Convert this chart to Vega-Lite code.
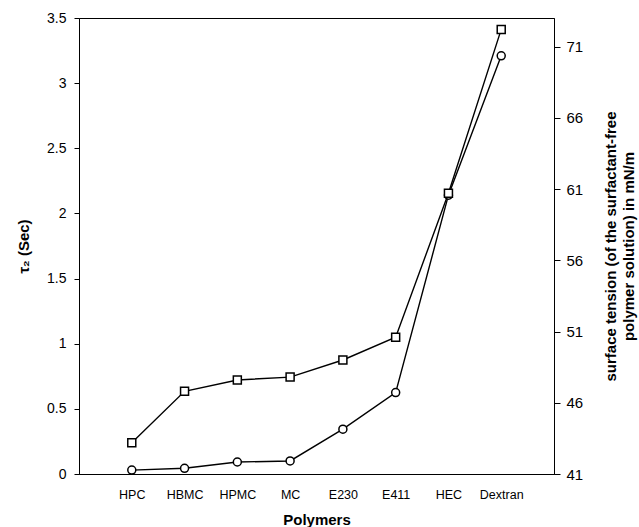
{
  "$schema": "https://vega.github.io/schema/vega-lite/v6.json",
  "width": 475,
  "height": 456,
  "autosize": {"type": "none"},
  "padding": {"left": 79, "top": 18, "right": 85, "bottom": 53},
  "background": "white",
  "config": {
    "font": "Liberation Sans",
    "view": {"stroke": "black", "strokeWidth": 1},
    "axis": {"domainColor": "black", "tickColor": "black", "labelColor": "black", "titleColor": "black", "grid": false, "labelFont": "Liberation Sans", "titleFont": "Liberation Sans"}
  },
  "data": {
    "values": [
      {"polymer": "HPC", "tau": 0.03, "st": 43.2},
      {"polymer": "HBMC", "tau": 0.044, "st": 46.8},
      {"polymer": "HPMC", "tau": 0.092, "st": 47.6},
      {"polymer": "MC", "tau": 0.10, "st": 47.8},
      {"polymer": "E230", "tau": 0.344, "st": 49.0},
      {"polymer": "E411", "tau": 0.625, "st": 50.6},
      {"polymer": "HEC", "tau": 2.14, "st": 60.7},
      {"polymer": "Dextran", "tau": 3.21, "st": 72.2}
    ]
  },
  "encoding": {
    "x": {
      "field": "polymer", "type": "nominal", "sort": null,
      "scale": {"type": "point", "padding": 1},
      "axis": {"title": "Polymers", "titleFontSize": 15, "titleFontWeight": "bold", "labelFontSize": 12.5, "labelAngle": 0, "ticks": false, "labelPadding": 14, "titlePadding": 12, "domainColor": "black"}
    }
  },
  "layer": [
    {
      "encoding": {
        "y": {
          "field": "tau", "type": "quantitative",
          "scale": {"domain": [0, 3.5], "nice": false, "zero": false},
          "axis": {"orient": "left", "title": "τ₂ (Sec)", "titleFontSize": 15, "titleFontWeight": "bold", "values": [0, 0.5, 1, 1.5, 2, 2.5, 3, 3.5], "format": "~g", "labelFontSize": 14, "tickSize": 5, "labelPadding": 8, "titlePadding": 15}
        }
      },
      "layer": [
        {"mark": {"type": "line", "color": "black", "strokeWidth": 1.4}},
        {"mark": {"type": "point", "shape": "circle", "size": 64, "filled": true, "fill": "white", "stroke": "black", "strokeWidth": 1.5, "opacity": 1}}
      ]
    },
    {
      "encoding": {
        "y": {
          "field": "st", "type": "quantitative",
          "scale": {"domain": [41, 73], "nice": false, "zero": false},
          "axis": {"orient": "right", "title": ["surface tension (of the surfactant-free", "polymer solution) in mN/m"], "titleAngle": -90, "titleFontSize": 15, "titleFontWeight": "bold", "titleLineHeight": 18, "values": [41, 46, 51, 56, 61, 66, 71], "labelFontSize": 15, "tickSize": 6, "labelPadding": 6, "titlePadding": 18}
        }
      },
      "layer": [
        {"mark": {"type": "line", "color": "black", "strokeWidth": 1.4}},
        {"mark": {"type": "point", "shape": "square", "size": 64, "filled": true, "fill": "white", "stroke": "black", "strokeWidth": 1.5, "opacity": 1}}
      ]
    }
  ],
  "resolve": {"scale": {"y": "independent"}}
}
